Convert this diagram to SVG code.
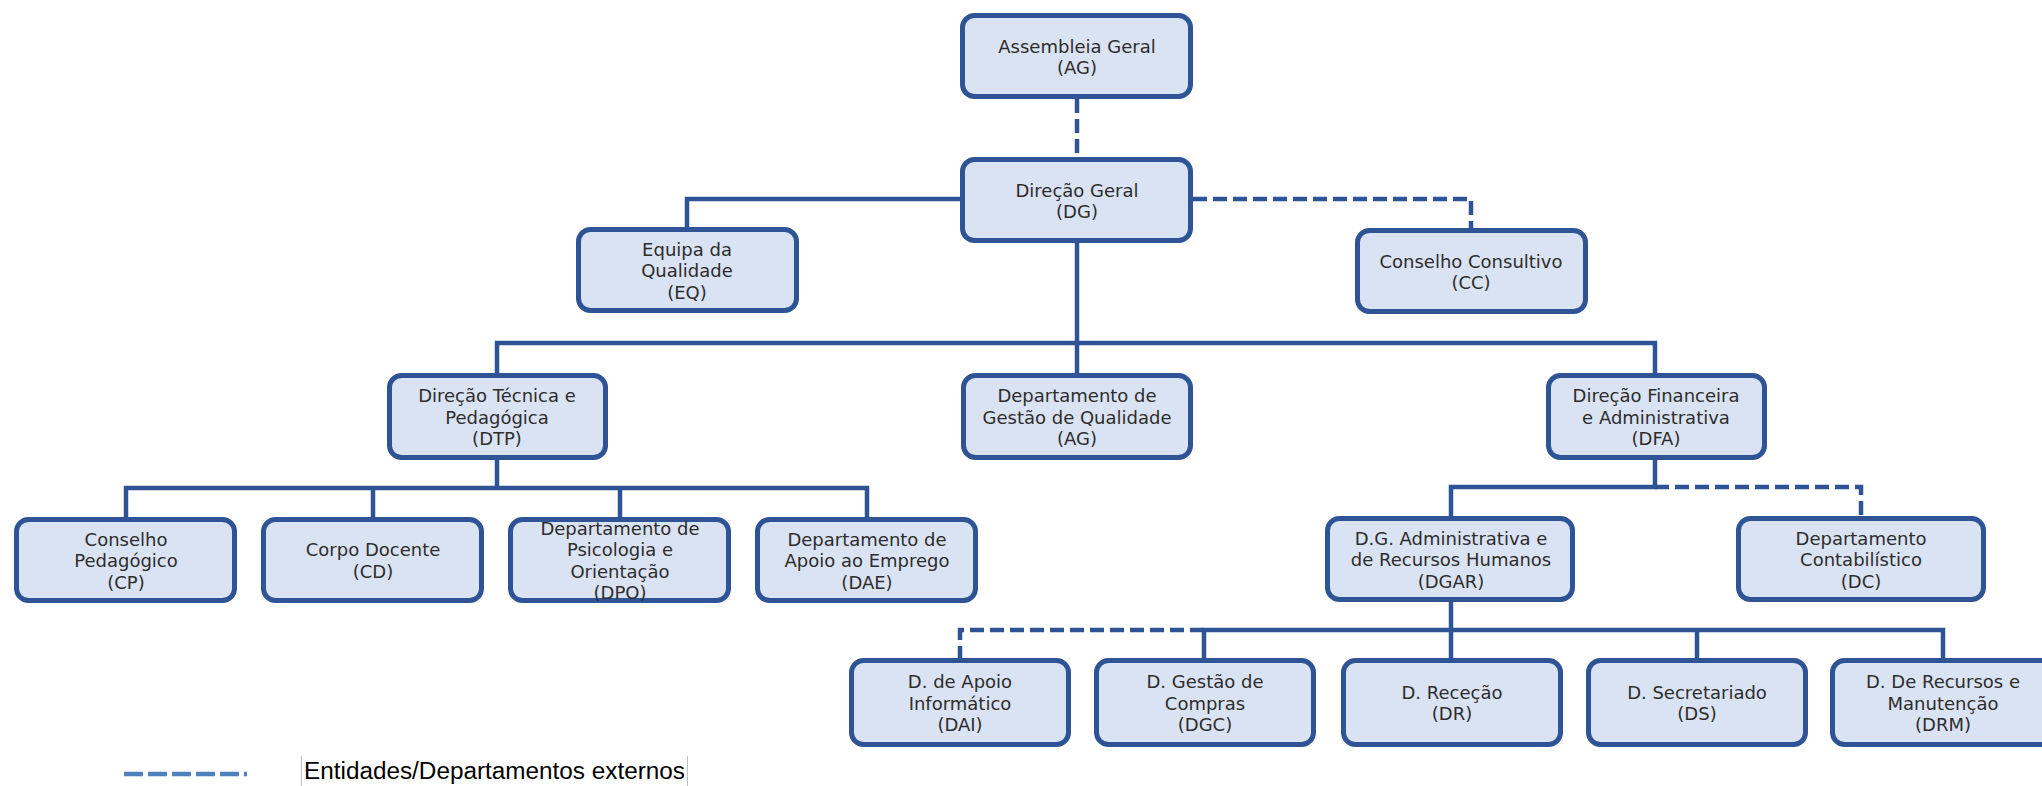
<svg xmlns="http://www.w3.org/2000/svg" width="2042" height="786" viewBox="0 0 2042 786">
<style>
  .box { fill: #dae3f3; stroke: #2f5496; stroke-width: 5; }
  .lbl { font-family: "DejaVu Sans", Verdana, sans-serif; font-size: 18px; fill: #2d2d2d; text-anchor: middle; }
  .ln { fill: none; stroke: #2f5496; stroke-width: 4.5; stroke-linejoin: miter; }
  .dash { stroke-dasharray: 14 6; }
  .legend-line { fill: none; stroke: #4f81bd; stroke-width: 4.5; stroke-dasharray: 19 5; }
  .legend-text { font-family: "Liberation Sans", Arial, sans-serif; font-size: 23px; fill: #000; }
  .edge { stroke: #bfbfbf; stroke-width: 1; }
</style>
<rect width="2042" height="786" fill="#ffffff"/>

<g id="connectors">
  <path class="ln dash" d="M1077 99 V157"/>
  <path class="ln" d="M960 199 H687 V227"/>
  <path class="ln dash" d="M1193 199 H1471 V228"/>
  <path class="ln" d="M1077 243 V373"/>
  <path class="ln" d="M497 373 V343 H1655 V373"/>
  <path class="ln" d="M497 460 V488"/>
  <path class="ln" d="M126 517 V488 H867 V517"/>
  <path class="ln" d="M373 488 V517"/>
  <path class="ln" d="M620 488 V517"/>
  <path class="ln" d="M1655 460 V487 H1451 V516"/>
  <path class="ln dash" d="M1655 487 H1861 V516"/>
  <path class="ln" d="M1451 602 V658"/>
  <path class="ln" d="M1204 658 V630 H1943 V658"/>
  <path class="ln" d="M1697 630 V658"/>
  <path class="ln dash" d="M1204 630 H960 V658"/>
</g>

<g id="AG">
  <rect class="box" x="962.5" y="15.5" width="228" height="81" rx="12"/>
  <text class="lbl" x="1077" y="52.5">Assembleia Geral</text>
  <text class="lbl" x="1077" y="74">(AG)</text>
</g>
<g id="DG">
  <rect class="box" x="962.5" y="159.5" width="228" height="81" rx="12"/>
  <text class="lbl" x="1077" y="196.5">Direção Geral</text>
  <text class="lbl" x="1077" y="218">(DG)</text>
</g>
<g id="EQ">
  <rect class="box" x="578.5" y="229.5" width="218" height="81" rx="12"/>
  <text class="lbl" x="687" y="255.5">Equipa da</text>
  <text class="lbl" x="687" y="277">Qualidade</text>
  <text class="lbl" x="687" y="298.5">(EQ)</text>
</g>
<g id="CC">
  <rect class="box" x="1357.5" y="230.5" width="228" height="81" rx="12"/>
  <text class="lbl" x="1471" y="267.5">Conselho Consultivo</text>
  <text class="lbl" x="1471" y="289">(CC)</text>
</g>
<g id="DTP">
  <rect class="box" x="389.5" y="375.5" width="216" height="82" rx="12"/>
  <text class="lbl" x="497" y="402">Direção Técnica e</text>
  <text class="lbl" x="497" y="423.5">Pedagógica</text>
  <text class="lbl" x="497" y="445">(DTP)</text>
</g>
<g id="DGQ">
  <rect class="box" x="963.5" y="375.5" width="227" height="82" rx="12"/>
  <text class="lbl" x="1077" y="402">Departamento de</text>
  <text class="lbl" x="1077" y="423.5">Gestão de Qualidade</text>
  <text class="lbl" x="1077" y="445">(AG)</text>
</g>
<g id="DFA">
  <rect class="box" x="1548.5" y="375.5" width="216" height="82" rx="12"/>
  <text class="lbl" x="1656" y="402">Direção Financeira</text>
  <text class="lbl" x="1656" y="423.5">e Administrativa</text>
  <text class="lbl" x="1656" y="445">(DFA)</text>
</g>
<g id="CP">
  <rect class="box" x="16.5" y="519.5" width="218" height="81" rx="12"/>
  <text class="lbl" x="126" y="545.5">Conselho</text>
  <text class="lbl" x="126" y="567">Pedagógico</text>
  <text class="lbl" x="126" y="588.5">(CP)</text>
</g>
<g id="CD">
  <rect class="box" x="263.5" y="519.5" width="218" height="81" rx="12"/>
  <text class="lbl" x="373" y="556.25">Corpo Docente</text>
  <text class="lbl" x="373" y="577.75">(CD)</text>
</g>
<g id="DPO">
  <rect class="box" x="510.5" y="519.5" width="218" height="81" rx="12"/>
  <text class="lbl" x="620" y="534.75">Departamento de</text>
  <text class="lbl" x="620" y="556.25">Psicologia e</text>
  <text class="lbl" x="620" y="577.75">Orientação</text>
  <text class="lbl" x="620" y="599.25">(DPO)</text>
</g>
<g id="DAE">
  <rect class="box" x="757.5" y="519.5" width="218" height="81" rx="12"/>
  <text class="lbl" x="867" y="545.5">Departamento de</text>
  <text class="lbl" x="867" y="567">Apoio ao Emprego</text>
  <text class="lbl" x="867" y="588.5">(DAE)</text>
</g>
<g id="DGAR">
  <rect class="box" x="1327.5" y="518.5" width="245" height="81" rx="12"/>
  <text class="lbl" x="1451" y="544.5">D.G. Administrativa e</text>
  <text class="lbl" x="1451" y="566">de Recursos Humanos</text>
  <text class="lbl" x="1451" y="587.5">(DGAR)</text>
</g>
<g id="DC">
  <rect class="box" x="1738.5" y="518.5" width="245" height="81" rx="12"/>
  <text class="lbl" x="1861" y="544.5">Departamento</text>
  <text class="lbl" x="1861" y="566">Contabilístico</text>
  <text class="lbl" x="1861" y="587.5">(DC)</text>
</g>
<g id="DAI">
  <rect class="box" x="851.5" y="660.5" width="217" height="84" rx="12"/>
  <text class="lbl" x="960" y="688">D. de Apoio</text>
  <text class="lbl" x="960" y="709.5">Informático</text>
  <text class="lbl" x="960" y="731">(DAI)</text>
</g>
<g id="DGC">
  <rect class="box" x="1096.5" y="660.5" width="217" height="84" rx="12"/>
  <text class="lbl" x="1205" y="688">D. Gestão de</text>
  <text class="lbl" x="1205" y="709.5">Compras</text>
  <text class="lbl" x="1205" y="731">(DGC)</text>
</g>
<g id="DR">
  <rect class="box" x="1343.5" y="660.5" width="217" height="84" rx="12"/>
  <text class="lbl" x="1452" y="698.75">D. Receção</text>
  <text class="lbl" x="1452" y="720.25">(DR)</text>
</g>
<g id="DS">
  <rect class="box" x="1588.5" y="660.5" width="217" height="84" rx="12"/>
  <text class="lbl" x="1697" y="698.75">D. Secretariado</text>
  <text class="lbl" x="1697" y="720.25">(DS)</text>
</g>
<g id="DRM">
  <rect class="box" x="1832.5" y="660.5" width="222" height="84" rx="12"/>
  <text class="lbl" x="1943" y="688">D. De Recursos e</text>
  <text class="lbl" x="1943" y="709.5">Manutenção</text>
  <text class="lbl" x="1943" y="731">(DRM)</text>
</g>

<g id="legend">
  <path class="legend-line" d="M124 774 H247"/>
  <line class="edge" x1="301.5" y1="756" x2="301.5" y2="786"/>
  <line class="edge" x1="687.5" y1="756" x2="687.5" y2="786"/>
  <text class="legend-text" x="304" y="779" textLength="381" lengthAdjust="spacingAndGlyphs">Entidades/Departamentos externos</text>
</g>
</svg>
